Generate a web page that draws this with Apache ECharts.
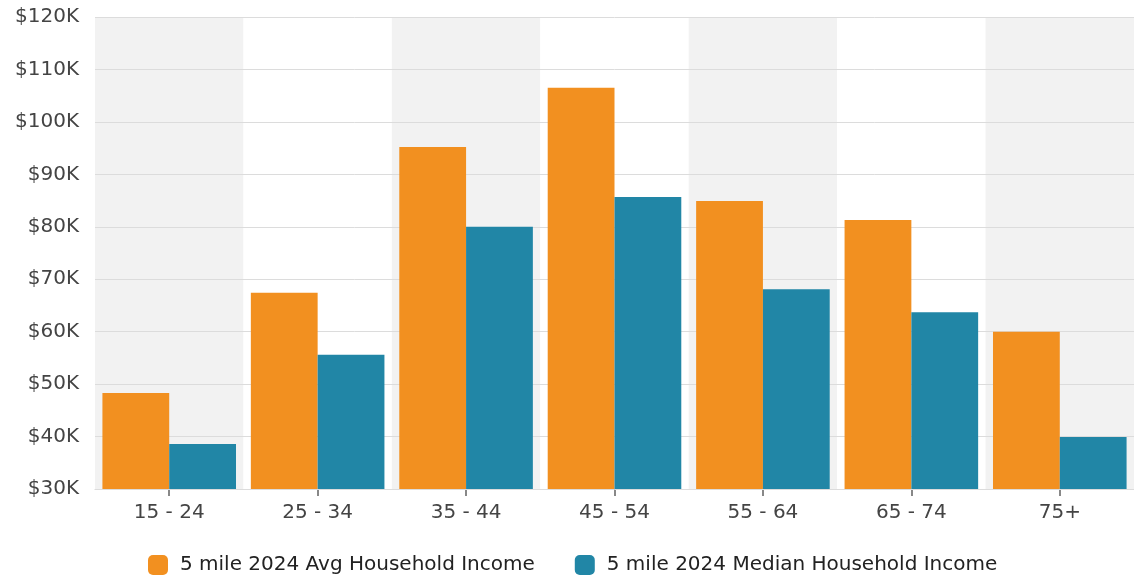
<!DOCTYPE html>
<html>
<head>
<meta charset="utf-8">
<script src="https://cdn.jsdelivr.net/npm/echarts@6/dist/echarts.min.js"></script>
<style>html,body{margin:0;padding:0;background:#fff;}#c{width:1134px;height:575px;}</style>
</head>
<body>
<div id="c"></div>
<script>
const categories = ['15 - 24', '25 - 34', '35 - 44', '45 - 54', '55 - 64', '65 - 74', '75+'];
const avgIncome = [48300, 67400, 95200, 106500, 84900, 81300, 60000];
const medianIncome = [38600, 55600, 80000, 85700, 68100, 63700, 39900];
const seriesNames = ['5 mile 2024 Avg Household Income', '5 mile 2024 Median Household Income'];
const yMin = 30000, yMax = 120000, yStep = 10000;

const FONT = 'DejaVu Sans';
const chart = echarts.init(document.getElementById('c'));
chart.setOption({
  animation: false,
  backgroundColor: '#ffffff',
  grid: { left: 95, right: 0, top: 17, bottom: 86 },
  legend: {
    data: seriesNames,
    left: 143, top: 550,
    icon: 'roundRect',
    itemWidth: 20, itemHeight: 20, itemGap: 40,
    textStyle: { fontFamily: FONT, fontSize: 20, color: '#222', padding: [0, 0, 0, 7] }
  },
  xAxis: {
    type: 'category',
    z: 0,
    data: categories,
    axisLine: { lineStyle: { color: '#d6d6d6', width: 1 } },
    axisTick: { show: true, alignWithLabel: true, length: 7, lineStyle: { color: '#888', width: 2 } },
    axisLabel: { fontFamily: FONT, fontSize: 20, color: '#444', margin: 14 },
    splitArea: { show: true, areaStyle: { color: ['#f2f2f2', '#ffffff'] } }
  },
  yAxis: {
    type: 'value',
    z: 1,
    min: yMin, max: yMax, interval: yStep,
    axisLine: { show: false },
    axisTick: { show: false },
    axisLabel: { fontFamily: FONT, fontSize: 20, color: '#444', margin: 16,
      formatter: v => '$' + (v / 1000) + 'K' },
    splitLine: { lineStyle: { color: '#dcdcdc', width: 1 } }
  },
  series: [
    { name: seriesNames[0], type: 'bar', data: avgIncome, itemStyle: { color: '#F29020' },
      barGap: '0%', barCategoryGap: '10%' },
    { name: seriesNames[1], type: 'bar', data: medianIncome, itemStyle: { color: '#2186A6' },
      barGap: '0%', barCategoryGap: '10%' }
  ]
});
</script>
</body>
</html>
